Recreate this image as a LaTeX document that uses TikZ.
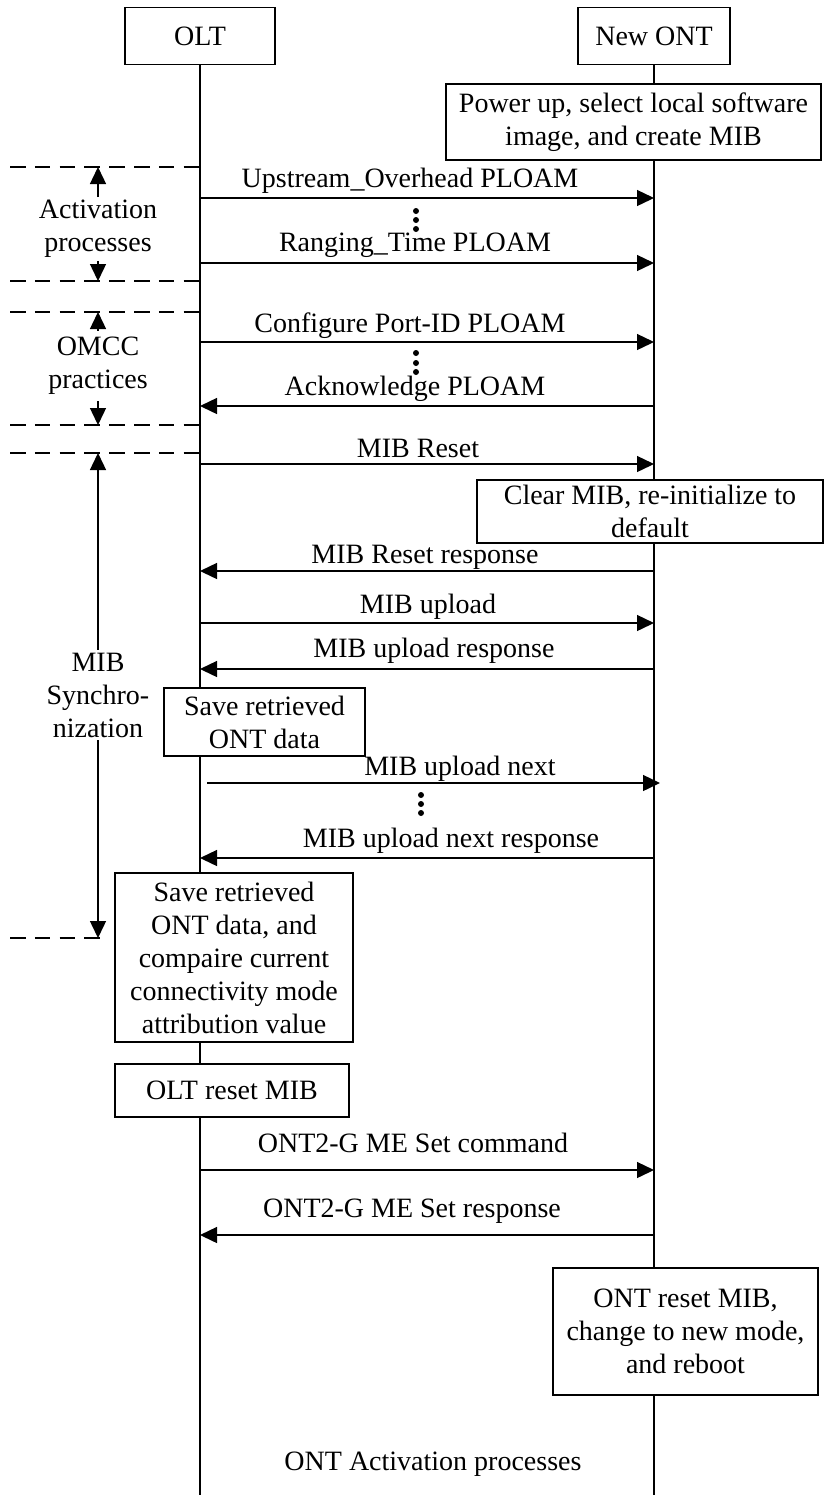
\documentclass[tikz,border=0pt]{standalone}
\usepackage{fontspec}
\setmainfont{Liberation Serif}
\usetikzlibrary{arrows.meta,positioning,calc}

\begin{document}
\begin{tikzpicture}[
  x=0.5pt, y=-0.5pt,
  font=\fontsize{14}{16.5}\selectfont,
  line width=0.7pt,
  box/.style  = {draw, fill=white, align=center, inner sep=2pt},
  lbl/.style  = {anchor=base, inner sep=0pt},
  note/.style = {align=center, inner xsep=0pt, inner ysep=1.2pt},
  msg/.style  = {-{Triangle[length=8.5pt,width=8pt]}},
  sep/.style  = {dash pattern=on 7.8pt off 4.6pt},
  dot/.style  = {circle, fill, inner sep=0pt, minimum size=3pt},
]
\useasboundingbox (0,0) rectangle (825,1495);

% =========================== lifelines =====================================
\node[box, minimum width=75pt, minimum height=28.5pt] (olt) at (200,36) {OLT};
\node[box, minimum width=76pt, minimum height=28.5pt] (ont) at (654,36) {New ONT};
\coordinate (bot) at (0,1495);
\draw (olt.south) -- (olt |- bot);
\draw (ont.south) -- (ont |- bot);

% =========================== local actions =================================
\node[box, minimum width=187.5pt, minimum height=38pt] (pwr) at (633.5,122)
  {Power up, select local software\\image, and create MIB};
\node[box, minimum width=173pt, minimum height=31.5pt] (clr) at (650,511.5)
  {Clear MIB, re-initialize to\\default};
\node[box, minimum width=100.5pt, minimum height=34pt] (sav) at (264.5,722)
  {Save retrieved\\ONT data};
\node[box, minimum width=119pt, minimum height=84.5pt] (cmp) at (234,957.5)
  {Save retrieved\\ONT data, and\\compaire current\\connectivity mode\\attribution value};
\node[box, minimum width=117pt, minimum height=26.5pt] (rst) at (232,1090.5)
  {OLT reset MIB};
\node[box, minimum width=132.5pt, minimum height=63.5pt] (onr) at (685.5,1331.5)
  {ONT reset MIB,\\change to new mode,\\and reboot};

% =========================== messages ======================================
\coordinate (m1)  at (0,198);
\coordinate (m2)  at (0,263);
\coordinate (m3)  at (0,342);
\coordinate (m4)  at (0,406);
\coordinate (m5)  at (0,464);
\coordinate (m6)  at (0,571);
\coordinate (m7)  at (0,623);
\coordinate (m8)  at (0,669);
\coordinate (m9)  at (0,783);
\coordinate (m10) at (0,858);
\coordinate (m11) at (0,1170);
\coordinate (m12) at (0,1235);

\draw[msg] (olt |- m1)  -- (ont |- m1);
\draw[msg] (olt |- m2)  -- (ont |- m2);
\draw[msg] (olt |- m3)  -- (ont |- m3);
\draw[msg] (ont |- m4)  -- (olt |- m4);
\draw[msg] (olt |- m5)  -- (ont |- m5);
\draw[msg] (ont |- m6)  -- (olt |- m6);
\draw[msg] (olt |- m7)  -- (ont |- m7);
\draw[msg] (ont |- m8)  -- (olt |- m8);
\draw[msg] ($(olt |- m9)+(7,0)$) -- ($(ont |- m9)+(6,0)$);
\draw[msg] (ont |- m10) -- (olt |- m10);
\draw[msg] (olt |- m11) -- (ont |- m11);
\draw[msg] (ont |- m12) -- (olt |- m12);

\node[lbl] (l1)  at (410,187)  {Upstream\_Overhead PLOAM};
\node[lbl] (l2)  at (415,251)  {Ranging\_Time PLOAM};
\node[lbl] (l3)  at (410,332)  {Configure Port-ID PLOAM};
\node[lbl] (l4)  at (415,395)  {Acknowledge PLOAM};
\node[lbl] (l5)  at (418,457)  {MIB Reset};
\node[lbl] (l6)  at (425,563)  {MIB Reset response};
\node[lbl] (l7)  at (428,613)  {MIB upload};
\node[lbl] (l8)  at (434,657)  {MIB upload response};
\node[lbl] (l9)  at (460,775)  {MIB upload next};
\node[lbl] (l10) at (451,847)  {MIB upload next response};
\node[lbl] (l11) at (413,1152) {ONT2-G ME Set command};
\node[lbl] (l12) at (412,1217) {ONT2-G ME Set response};
\node[lbl] (l13) at (433,1470) {ONT Activation processes};

% vertical ellipses
\foreach \y in {211,220,229} \node[dot] (va\y) at (416,\y) {};
\foreach \y in {353,363,372} \node[dot] (vb\y) at (416,\y) {};
\foreach \y in {795,804,813} \node[dot] (vc\y) at (421,\y) {};

% =========================== phases (left) =================================
\coordinate (d1) at (10,167);
\coordinate (d2) at (10,281);
\coordinate (d3) at (10,312);
\coordinate (d4) at (10,425);
\coordinate (d5) at (10,453);
\coordinate (d6) at (10,938);
\coordinate (d6e) at (105,938);

\draw[sep] (d1) -- (olt |- d1);
\draw[sep] (d2) -- (olt |- d2);
\draw[sep] (d3) -- (olt |- d3);
\draw[sep] (d4) -- (olt |- d4);
\draw[sep] (d5) -- (olt |- d5);
\draw[sep] (d6) -- (d6e);

\node[note] (act) at (98,229) {Activation\\processes};
\node[note, inner ysep=3pt] (omc) at (98,366) {OMCC\\practices};
\node[note] (mib) at (98,695) {MIB\\Synchro-\\nization};

\draw[msg] (act.north) -- (act.north |- d1);
\draw[msg] (act.south) -- (act.south |- d2);
\draw[msg] (omc.north) -- (omc.north |- d3);
\draw[msg] (omc.south) -- (omc.south |- d4);
\draw[msg] (mib.north) -- (mib.north |- d5);
\draw[msg] (mib.south) -- (mib.south |- d6);

\end{tikzpicture}
\end{document}
